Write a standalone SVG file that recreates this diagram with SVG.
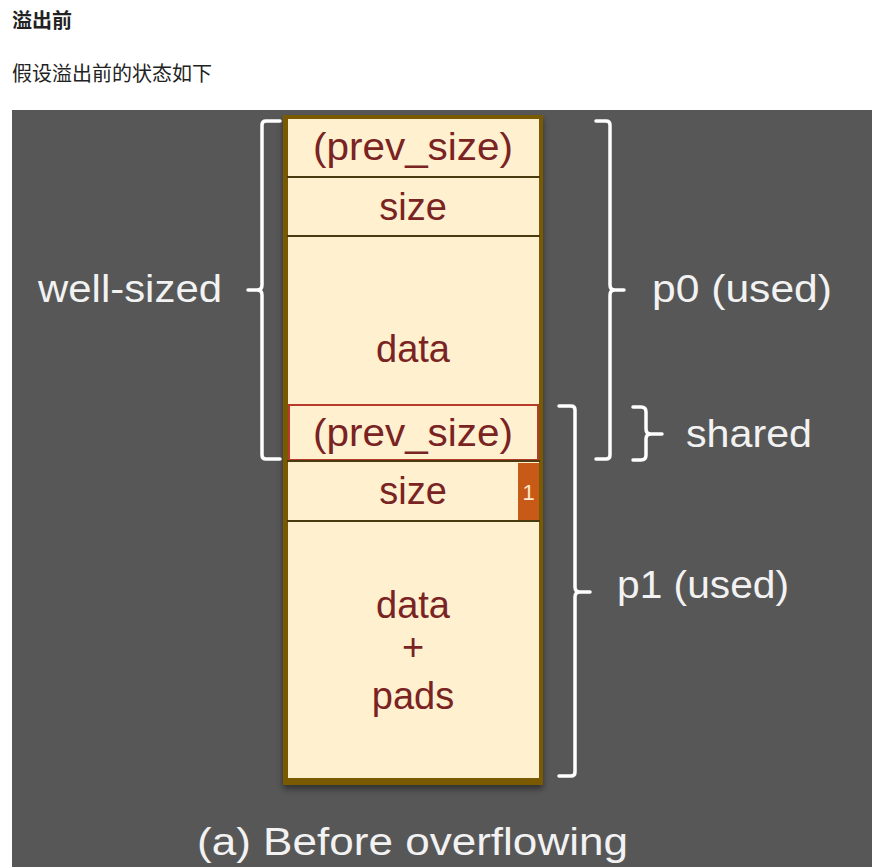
<svg xmlns="http://www.w3.org/2000/svg" width="875" height="867" viewBox="0 0 875 867">
<defs>
<style>
.hd{font-family:"Noto Sans CJK SC","Noto Sans",sans-serif;font-size:20px;fill:#222}
.cell{fill:#fff1d0}
.sep{stroke:#4a3a10;stroke-width:2}
.in{font-family:"Liberation Sans","DejaVu Sans",sans-serif;font-size:38px;fill:#7a2323;text-anchor:middle}
.lbl{font-family:"Liberation Sans","DejaVu Sans",sans-serif;font-size:38px;fill:#f2f2f2}
.br{fill:none;stroke:#ffffff;stroke-width:3.5;stroke-linejoin:round;stroke-linecap:round}
</style>
<filter id="sh" x="-10%" y="-10%" width="130%" height="130%">
<feDropShadow dx="0" dy="4" stdDeviation="3" flood-color="#000" flood-opacity="0.45"/>
</filter>
</defs>
<rect width="875" height="867" fill="#ffffff"/>
<text class="hd" x="12" y="28" font-weight="bold">溢出前</text>
<text class="hd" x="12" y="81">假设溢出前的状态如下</text>
<rect x="12" y="110" width="860" height="757" fill="#575757"/>

<g id="chunk-column">
<rect x="283" y="115" width="260" height="670" fill="#7a5a00" filter="url(#sh)"/>
<rect class="cell" x="288" y="119" width="251" height="659"/>
</g>
<g id="row-prev-size-0">
<line class="sep" x1="287" y1="177" x2="540" y2="177"/>
<text class="in" x="413" y="160" textLength="200" lengthAdjust="spacingAndGlyphs">(prev_size)</text>
</g>
<g id="row-size-0">
<line class="sep" x1="287" y1="236" x2="540" y2="236"/>
<text class="in" x="413" y="220">size</text>
</g>
<g id="row-data-0">
<text class="in" x="413" y="362">data</text>
</g>
<g id="row-prev-size-1">
<rect x="289" y="405" width="249" height="55" fill="none" stroke="#b83a2a" stroke-width="2"/>
<line class="sep" x1="287" y1="461" x2="540" y2="461"/>
<text class="in" x="413" y="446" textLength="200" lengthAdjust="spacingAndGlyphs">(prev_size)</text>
</g>
<g id="row-size-1">
<rect x="518" y="463" width="21" height="57" fill="#c65a16"/>
<text x="528.5" y="500" font-family="Liberation Sans,sans-serif" font-size="22" fill="#ffe8d0" text-anchor="middle">1</text>
<line class="sep" x1="287" y1="521" x2="540" y2="521"/>
<text class="in" x="413" y="504">size</text>
</g>
<g id="row-data-1">
<text class="in" x="413" y="618">data</text>
<text class="in" x="413" y="660">+</text>
<text class="in" x="413" y="709">pads</text>
</g>

<g id="connectors">
<path class="br" d="M280,121 H266 Q262,121 262,125 V285 Q262,290 257,290 H248 M257,290 Q262,290 262,295 V455 Q262,459 266,459 H280"/>
<path class="br" d="M596,121 H606 Q610,121 610,125 V285 Q610,290 615,290 H624 M615,290 Q610,290 610,295 V455 Q610,459 606,459 H596"/>
<path class="br" d="M559,406 H571 Q575,406 575,410 V587 Q575,592 580,592 H590 M580,592 Q575,592 575,597 V772 Q575,776 571,776 H559"/>
<path class="br" d="M633,407 H641 Q646,407 646,412 V429 Q646,434 651,434 H662 M651,434 Q646,434 646,439 V455 Q646,460 641,460 H633"/>
</g>

<g id="labels">
<text class="lbl" x="38" y="302" textLength="184" lengthAdjust="spacingAndGlyphs">well-sized</text>
<text class="lbl" x="652" y="302" textLength="180" lengthAdjust="spacingAndGlyphs">p0 (used)</text>
<text class="lbl" x="686" y="447" textLength="126" lengthAdjust="spacingAndGlyphs">shared</text>
<text class="lbl" x="617" y="598" textLength="172" lengthAdjust="spacingAndGlyphs">p1 (used)</text>
<text class="lbl" x="197" y="855" font-size="40" textLength="431" lengthAdjust="spacingAndGlyphs">(a) Before overflowing</text>
</g>
</svg>
